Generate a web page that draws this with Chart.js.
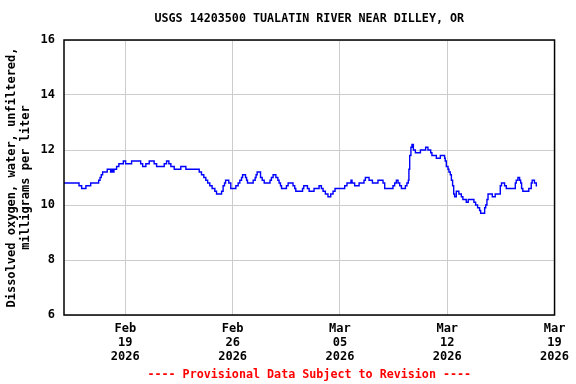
<!DOCTYPE html>
<html>
<head>
<meta charset="utf-8">
<script src="https://cdn.jsdelivr.net/npm/chart.js@4.4.1/dist/chart.umd.min.js"></script>
<style>
  html, body { margin: 0; padding: 0; background: #ffffff; }
  #wrap { width: 576px; height: 384px; position: relative; }
</style>
</head>
<body>
<div id="wrap"><canvas id="c" width="576" height="384"></canvas></div>
<script>
// Time in days since Feb 15 2026 00:00 (start of each 0.1 mg/L step level)
const days = [
  0.00, 0.98, 1.15, 1.43, 1.74, 2.26, 2.35, 2.43, 2.52, 2.82, 3.04, 3.09, 3.13, 3.17, 3.22, 3.26,
  3.43, 3.58, 3.87, 4.02, 4.41, 5.00, 5.13, 5.34, 5.56, 5.88, 6.04, 6.54, 6.69, 6.84, 6.97, 7.19,
  7.62, 7.95, 8.82, 8.97, 9.12, 9.25, 9.37, 9.51, 9.66, 9.84, 9.95, 10.28, 10.38, 10.47, 10.54, 10.75,
  10.88, 11.21, 11.36, 11.47, 11.58, 11.65, 11.84, 11.91, 11.97, 12.34, 12.47, 12.53, 12.60, 12.82, 12.93, 13.06,
  13.44, 13.53, 13.64, 13.82, 13.95, 14.03, 14.12, 14.19, 14.51, 14.62, 14.94, 15.05, 15.12, 15.56, 15.64, 15.88,
  15.99, 16.31, 16.64, 16.79, 16.90, 17.05, 17.22, 17.40, 17.55, 17.68, 18.31, 18.46, 18.72, 18.79, 18.96, 19.25,
  19.57, 19.66, 19.90, 20.12, 20.48, 20.81, 20.92, 21.46, 21.57, 21.68, 21.79, 21.90, 22.01, 22.27, 22.37, 22.46,
  22.50, 22.55, 22.63, 22.70, 22.79, 22.92, 23.25, 23.59, 23.74, 23.92, 24.00, 24.29, 24.55, 24.83, 24.87, 24.94,
  25.05, 25.11, 25.20, 25.27, 25.35, 25.42, 25.48, 25.59, 25.76, 25.92, 26.02, 26.24, 26.37, 26.74, 26.85, 26.98,
  27.11, 27.18, 27.44, 27.51, 27.59, 27.66, 27.94, 28.13, 28.46, 28.54, 28.74, 28.85, 29.44, 29.50, 29.61, 29.72,
  29.79, 29.85, 29.93, 30.32, 30.48, 30.54, 30.69, 30.81, 30.86
];
// Dissolved oxygen, mg/L
const oxygen = [
  10.8, 10.7, 10.6, 10.7, 10.8, 10.9, 11.0, 11.1, 11.2, 11.3, 11.2, 11.3, 11.2, 11.3, 11.2, 11.3,
  11.4, 11.5, 11.6, 11.5, 11.6, 11.5, 11.4, 11.5, 11.6, 11.5, 11.4, 11.5, 11.6, 11.5, 11.4, 11.3,
  11.4, 11.3, 11.2, 11.1, 11.0, 10.9, 10.8, 10.7, 10.6, 10.5, 10.4, 10.5, 10.7, 10.8, 10.9, 10.8,
  10.6, 10.7, 10.8, 10.9, 11.0, 11.1, 11.0, 10.9, 10.8, 10.9, 11.0, 11.1, 11.2, 11.0, 10.9, 10.8,
  10.9, 11.0, 11.1, 11.0, 10.9, 10.8, 10.7, 10.6, 10.7, 10.8, 10.7, 10.6, 10.5, 10.6, 10.7, 10.6,
  10.5, 10.6, 10.7, 10.6, 10.5, 10.4, 10.3, 10.4, 10.5, 10.6, 10.7, 10.8, 10.9, 10.8, 10.7, 10.8,
  10.9, 11.0, 10.9, 10.8, 10.9, 10.8, 10.6, 10.7, 10.8, 10.9, 10.8, 10.7, 10.6, 10.7, 10.8, 10.9,
  11.3, 11.8, 12.1, 12.2, 12.0, 11.9, 12.0, 12.1, 12.0, 11.9, 11.8, 11.7, 11.8, 11.7, 11.6, 11.4,
  11.3, 11.2, 11.1, 10.9, 10.7, 10.4, 10.3, 10.5, 10.4, 10.3, 10.2, 10.1, 10.2, 10.1, 10.0, 9.9,
  9.8, 9.7, 9.9, 10.0, 10.2, 10.4, 10.3, 10.4, 10.7, 10.8, 10.7, 10.6, 10.8, 10.9, 11.0, 10.9,
  10.8, 10.6, 10.5, 10.6, 10.8, 10.9, 10.8, 10.7, 10.7
];
// X-axis ticks (days since Feb 15 2026) and their three-line labels
const tickDays   = [4, 11, 18, 25, 32];
const tickMonths = ['Feb', 'Feb', 'Mar', 'Mar', 'Mar'];
const tickDates  = ['19', '26', '05', '12', '19'];
const tickYears  = ['2026', '2026', '2026', '2026', '2026'];
const yTicks     = [6, 8, 10, 12, 14, 16];

const chartTitle = 'USGS 14203500 TUALATIN RIVER NEAR DILLEY, OR';
const yTitle = ['Dissolved oxygen, water, unfiltered,', 'milligrams per liter'];
const note = '---- Provisional Data Subject to Revision ----';

const FONT = "'DejaVu Sans Mono', 'Liberation Mono', monospace";

const points = days.map((d, i) => ({ x: d, y: oxygen[i] }));

const decor = {
  id: 'decor',
  afterDraw(chart) {
    const { ctx, chartArea: a } = chart;
    ctx.save();
    // frame
    ctx.strokeStyle = '#000000';
    ctx.lineWidth = 1.5;
    ctx.strokeRect(a.left, a.top, a.right - a.left, a.bottom - a.top);
    // title
    ctx.fillStyle = '#000000';
    ctx.font = 'bold 11.7px ' + FONT;
    ctx.textAlign = 'center';
    ctx.textBaseline = 'middle';
    ctx.fillText(chartTitle, (a.left + a.right) / 2, 19);
    // y title (rotated)
    ctx.font = 'bold 12px ' + FONT;
    const cy = (a.top + a.bottom) / 2;
    ctx.save();
    ctx.translate(12, cy);
    ctx.rotate(-Math.PI / 2);
    ctx.fillText(yTitle[0], 0, 0);
    ctx.restore();
    ctx.save();
    ctx.translate(26, cy);
    ctx.rotate(-Math.PI / 2);
    ctx.fillText(yTitle[1], 0, 0);
    ctx.restore();
    // provisional note
    ctx.font = 'bold 11.7px ' + FONT;
    ctx.fillStyle = '#ff0000';
    ctx.fillText(note, (a.left + a.right) / 2, 375);
    ctx.restore();
  }
};

new Chart(document.getElementById('c'), {
  type: 'line',
  data: {
    datasets: [{
      data: points,
      stepped: true,
      borderColor: '#0000ff',
      borderWidth: 1.4,
      pointRadius: 0,
      fill: false
    }]
  },
  options: {
    responsive: false,
    animation: false,
    events: [],
    layout: { padding: { left: 0, top: 40, right: 21, bottom: 0 } },
    plugins: { legend: { display: false }, title: { display: false }, tooltip: { enabled: false } },
    scales: {
      x: {
        type: 'linear',
        min: 0,
        max: 32,
        afterBuildTicks: (s) => { s.ticks = tickDays.map(v => ({ value: v })); },
        afterFit: (s) => { s.height = 69; },
        grid: { color: '#cccccc', lineWidth: 1, drawTicks: false },
        border: { display: false },
        ticks: {
          autoSkip: false,
          maxRotation: 0,
          padding: 7,
          color: '#000000',
          font: { family: FONT, size: 12, weight: 'bold', lineHeight: '14px' },
          callback: (v) => {
            const i = tickDays.indexOf(v);
            return i < 0 ? '' : [tickMonths[i], tickDates[i], tickYears[i]];
          }
        }
      },
      y: {
        min: 6,
        max: 16,
        afterBuildTicks: (s) => { s.ticks = yTicks.map(v => ({ value: v })); },
        afterFit: (s) => { s.width = 64; },
        grid: { color: '#cccccc', lineWidth: 1, drawTicks: false },
        border: { display: false },
        ticks: {
          padding: 9,
          color: '#000000',
          font: { family: FONT, size: 12, weight: 'bold' }
        }
      }
    }
  },
  plugins: [decor]
});
</script>
</body>
</html>
